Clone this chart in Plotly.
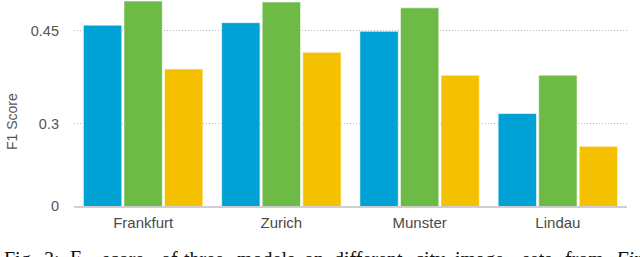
import plotly.graph_objects as go

# ---- data ----
cities = ["Frankfurt", "Zurich", "Munster", "Lindau"]
model_a = [0.459, 0.463, 0.449, 0.316]
model_b = [0.498, 0.4965, 0.487, 0.378]
model_c = [0.388, 0.415, 0.378, 0.263]
series_names = ["Model A", "Model B", "Model C"]
series_colors = ["#00A2D6", "#6DBA47", "#F5C000"]

# broken axis: the baseline labelled "0" sits at this value of the scale
axis_floor = 0.1665
axis_top = 0.4997
y_tick_vals = [axis_floor, 0.3, 0.45]
y_tick_text = ["0", "0.3", "0.45"]

caption_words = ["Fig.", "3:", "F<sub>1</sub>", "score", "of", "three", "models", "on",
                 "different", "city", "image", "sets", "from", "<i>Fine</i>"]
caption_px = [2, 42, 68, 100, 159, 182, 235, 302, 332, 413, 453, 520, 563, 613]

W, H = 640, 257
ML, MR, MT, MB = 74, 13, 0, 51
PW = W - ML - MR
PH = H - MT - MB

fig = go.Figure()
for name, vals, col in zip(series_names, [model_a, model_b, model_c], series_colors):
    fig.add_trace(go.Bar(
        x=cities, y=vals, name=name,
        marker=dict(color=col, line=dict(color="rgba(255,255,255,0.55)", width=1)),
        showlegend=False,
    ))

font_sans = "Liberation Sans, Arial, sans-serif"

fig.update_layout(
    width=W, height=H,
    margin=dict(l=ML, r=MR, t=MT, b=MB),
    paper_bgcolor="white", plot_bgcolor="white",
    barmode="group", bargap=0.12, bargroupgap=0.055,
    xaxis=dict(
        showgrid=False, showline=True, linecolor="#cfcfcf", linewidth=2,
        ticks="", tickfont=dict(family=font_sans, size=15, color="#4a4a4a"),
        ticklabelstandoff=2,
    ),
    yaxis=dict(
        range=[axis_floor, axis_top],
        tickvals=y_tick_vals, ticktext=y_tick_text,
        showgrid=True, gridcolor="#b8b8b8", griddash="1px,2px", gridwidth=1,
        zeroline=False, showline=False, ticks="",
        tickfont=dict(family=font_sans, size=14.5, color="#555555"),
        ticklabelstandoff=14,
    ),
)

# y-axis title
fig.add_annotation(
    text="F1 Score", textangle=-90, xref="paper", yref="paper",
    x=(12 - ML) / PW, y=1 - (122 - MT) / PH, xanchor="center", yanchor="middle",
    showarrow=False, font=dict(family=font_sans, size=14, color="#555555"),
)

# caption (justified words, cut off at the bottom of the image)
for w, px in zip(caption_words, caption_px):
    fig.add_annotation(
        text=w, xref="paper", yref="paper",
        x=(px - ML) / PW, y=1 - (259 - MT) / PH, xanchor="left", yanchor="middle",
        showarrow=False,
        font=dict(family="Liberation Serif, Times New Roman, serif", size=20, color="#111111"),
    )

fig.write_html(
    "out.html",
    config={"displayModeBar": False},
    post_script="document.body.style.margin='0';document.body.style.overflow='hidden';",
)
